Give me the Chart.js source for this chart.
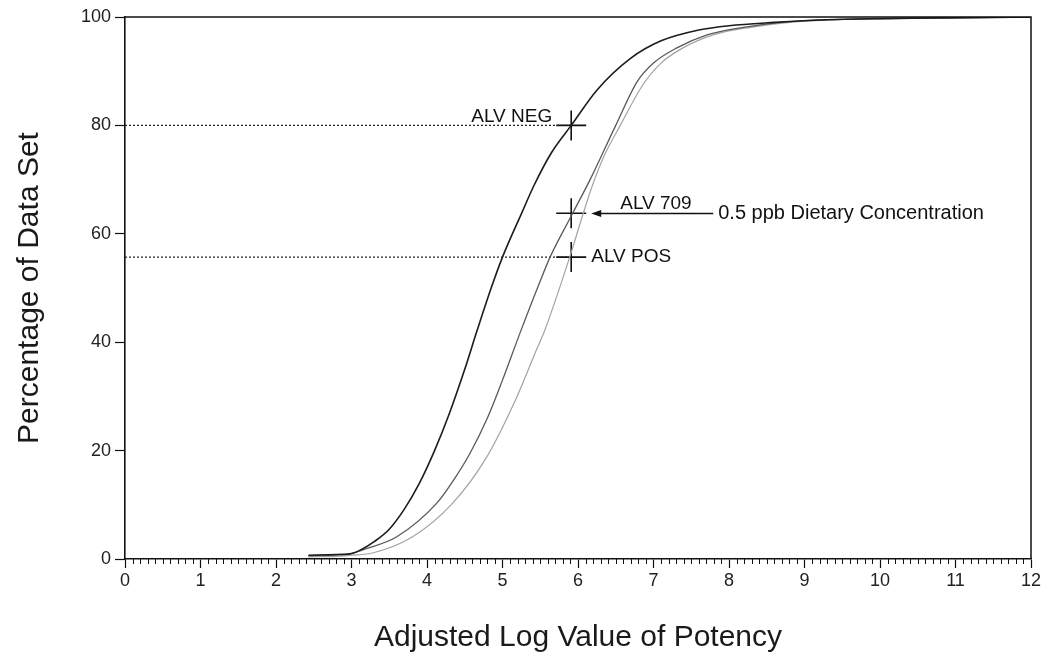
<!DOCTYPE html>
<html>
<head>
<meta charset="utf-8">
<script src="https://cdn.jsdelivr.net/npm/chart.js@4"></script>
<style>
html, body { margin: 0; padding: 0; background: #fff; }
</style>
</head>
<body>
<canvas id="potencyChart" width="1041" height="658"></canvas>
<script>
// readings
const negX = [2.43, 2.8, 3.0, 3.15, 3.3, 3.5, 3.7, 3.9, 4.1, 4.3, 4.5, 4.66, 4.85, 5.0, 5.26, 5.42, 5.65, 5.91, 6.25, 6.7, 7.1, 7.6, 8.0, 8.6, 9.3, 10, 11, 12];
const negY = [0.7, 0.8, 1.0, 1.9, 3.2, 5.5, 9.2, 14, 20, 27, 35, 42, 50, 55.7, 64, 69, 75, 80, 86.5, 92.4, 95.6, 97.6, 98.4, 99, 99.5, 99.7, 99.85, 100];

const alv709X = [2.43, 2.8, 3.0, 3.15, 3.6, 4.13, 4.35, 4.57, 4.8, 5.0, 5.24, 5.5, 5.63, 5.93, 6.16, 6.5, 6.78, 7.0, 7.31, 7.71, 8.15, 8.7, 9.3, 10, 11, 12];
const alv709Y = [0.6, 0.8, 1.0, 1.7, 4.1, 10.3, 14.5, 19.5, 26, 33, 42, 51.3, 55.7, 63.8, 70, 80, 88, 91.5, 94.3, 96.7, 98, 99, 99.5, 99.7, 99.85, 100];

const posX = [2.43, 2.8, 3.0, 3.28, 3.81, 4.34, 4.79, 5.19, 5.45, 5.56, 5.89, 6.03, 6.18, 6.35, 6.56, 6.86, 7.1, 7.39, 7.79, 8.24, 8.8, 9.4, 10, 11, 12];
const posY = [0.4, 0.5, 0.7, 1.1, 4.1, 10.3, 18.8, 29.9, 38.6, 42.2, 55.7, 62, 68.5, 74.5, 80, 87.5, 91.5, 94.3, 96.7, 98, 99, 99.5, 99.7, 99.85, 100];

// marked points at 0.5 ppb
const markerNames = ['ALV NEG', 'ALV 709', 'ALV POS'];
const markerX = [5.91, 5.91, 5.91];
const markerY = [80, 63.8, 55.7];
const dottedY = [80, 55.7];
const noteText = '0.5 ppb Dietary Concentration';

const xTicks = [0, 1, 2, 3, 4, 5, 6, 7, 8, 9, 10, 11, 12];
const yTicks = [0, 20, 40, 60, 80, 100];

const FONT = '"Liberation Sans", Arial, Helvetica, sans-serif';

function pts(xs, ys) {
    return xs.map((x, i) => ({x: x, y: ys[i]}));
}

let datasets = [
    {data: pts(negX, negY), borderColor: '#1c1c1c', borderWidth: 1.6},
    {data: pts(alv709X, alv709Y), borderColor: '#595959', borderWidth: 1.3},
    {data: pts(posX, posY), borderColor: '#a3a3a3', borderWidth: 1.2}
];
datasets.forEach(d => {
    d.type = 'line';
    d.pointRadius = 0;
    d.fill = false;
    d.cubicInterpolationMode = 'monotone';
});

// dotted guides from the y axis to the markers
dottedY.forEach(v => {
    datasets.push({
        type: 'line',
        data: [{x: 0, y: v}, {x: markerX[0], y: v}],
        borderColor: '#222',
        borderWidth: 1.4,
        borderDash: [2, 2],
        pointRadius: 0
    });
});

// crosses
datasets.push({
    type: 'scatter',
    data: pts(markerX, markerY),
    pointStyle: 'cross',
    pointRadius: 15,
    borderColor: '#111',
    borderWidth: 1.6,
    showLine: false
});

const extras = {
    id: 'extras',
    afterDraw(chart) {
        const ctx = chart.ctx;
        const a = chart.chartArea;
        const xs = chart.scales.x;
        const ys = chart.scales.y;
        ctx.save();

        // frame top + right
        ctx.strokeStyle = '#111';
        ctx.lineWidth = 1.5;
        ctx.beginPath();
        ctx.moveTo(a.left, a.top);
        ctx.lineTo(a.right, a.top);
        ctx.lineTo(a.right, a.bottom);
        ctx.stroke();

        // minor ticks on x
        ctx.lineWidth = 1;
        ctx.beginPath();
        for (let i = 1; i < 120; i++) {
            if (i % 10 === 0) continue;
            const px = Math.round(xs.getPixelForValue(i / 10)) + 0.5;
            ctx.moveTo(px, a.bottom);
            ctx.lineTo(px, a.bottom + 5);
        }
        ctx.stroke();

        // labels
        ctx.fillStyle = '#111';
        ctx.font = '19px ' + FONT;
        const p = markerX.map((v, i) => [xs.getPixelForValue(v), ys.getPixelForValue(markerY[i])]);

        ctx.textAlign = 'right';
        ctx.textBaseline = 'alphabetic';
        ctx.fillText(markerNames[0], p[0][0] - 19, p[0][1] - 3);

        ctx.textAlign = 'left';
        ctx.fillText(markerNames[1], p[1][0] + 49, p[1][1] - 4);

        ctx.textBaseline = 'middle';
        ctx.fillText(markerNames[2], p[2][0] + 20, p[2][1]);

        ctx.font = '20px ' + FONT;
        ctx.fillText(noteText, p[1][0] + 147, p[1][1]);

        // arrow to ALV 709
        const y = Math.round(p[1][1]) + 0.5;
        const x0 = p[1][0] + 20;
        ctx.lineWidth = 1.4;
        ctx.beginPath();
        ctx.moveTo(x0 + 6, y);
        ctx.lineTo(p[1][0] + 142, y);
        ctx.stroke();
        ctx.beginPath();
        ctx.moveTo(x0, y);
        ctx.lineTo(x0 + 10, y - 3.5);
        ctx.lineTo(x0 + 10, y + 3.5);
        ctx.closePath();
        ctx.fill();

        ctx.restore();
    }
};

new Chart(document.getElementById('potencyChart'), {
    data: {datasets: datasets},
    options: {
        responsive: false,
        animation: false,
        layout: {autoPadding: false, padding: {top: 17, right: 10, left: 0, bottom: 0}},
        plugins: {legend: {display: false}, tooltip: {enabled: false}},
        scales: {
            x: {
                type: 'linear',
                min: 0,
                max: 12,
                afterBuildTicks: s => { s.ticks = xTicks.map(v => ({value: v})); },
                afterFit: s => { s.height = 99; s.paddingRight = 0; s.paddingLeft = 0; },
                grid: {drawOnChartArea: false, tickLength: 9, color: '#111', tickWidth: 1.2},
                border: {color: '#111', width: 1.6},
                ticks: {color: '#222', font: {family: FONT, size: 18}, padding: 2, maxRotation: 0},
                title: {display: true, text: 'Adjusted Log Value of Potency', color: '#1a1a1a',
                        font: {family: FONT, size: 30}, padding: {top: 0, bottom: 2}}
            },
            y: {
                min: 0,
                max: 100,
                afterBuildTicks: s => { s.ticks = yTicks.map(v => ({value: v})); },
                afterFit: s => { s.width = 125; },
                grid: {drawOnChartArea: false, tickLength: 10, color: '#111', tickWidth: 1.2},
                border: {color: '#111', width: 1.6},
                ticks: {color: '#222', font: {family: FONT, size: 18}, padding: 4},
                title: {display: true, text: 'Percentage of Data Set', color: '#1a1a1a',
                        font: {family: FONT, size: 30}, padding: {top: 12, bottom: 0}}
            }
        }
    },
    plugins: [extras]
});
</script>
</body>
</html>
